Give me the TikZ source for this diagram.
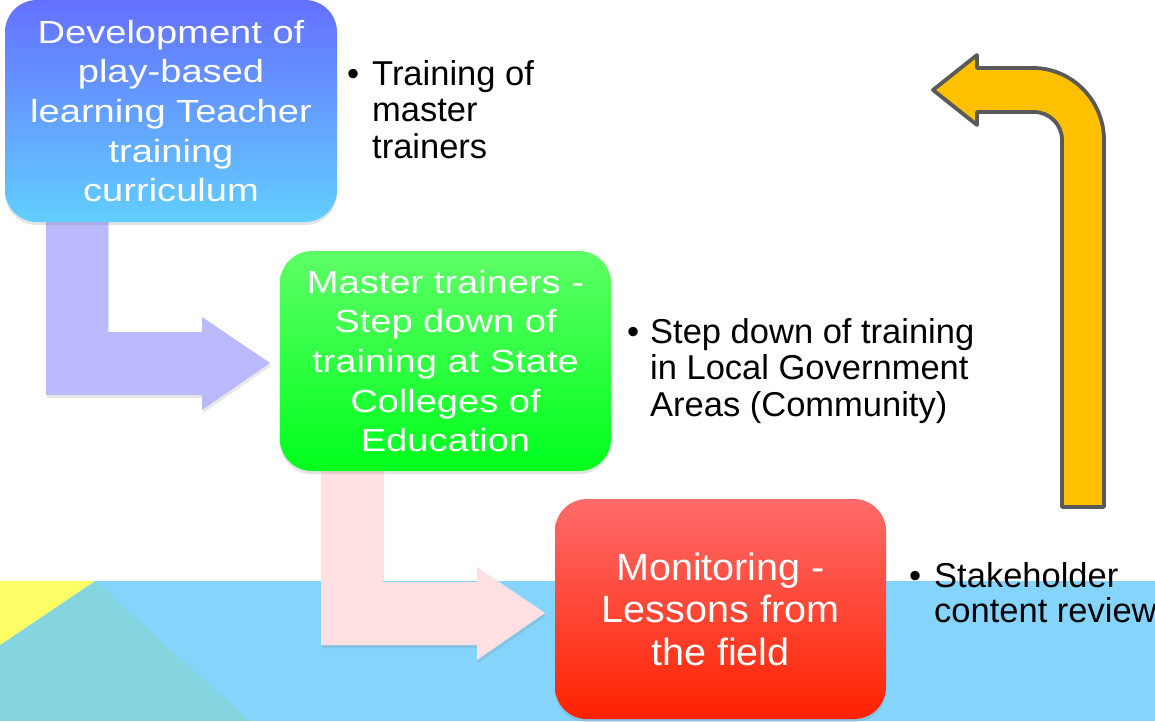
\documentclass[tikz,border=0pt]{standalone}
\usepackage{fontspec}
\setmainfont{Liberation Sans}
\newfontfamily\boxfont{Liberation Sans}[FakeStretch=1.19]
\newfontfamily\redfont{Liberation Sans}[FakeStretch=1.04]
\usetikzlibrary{shadows}
\definecolor{bgblue}{RGB}{132,212,252}
\definecolor{tealbg}{RGB}{133,213,224}
\definecolor{yellowbg}{RGB}{255,255,102}
\definecolor{lilac}{RGB}{185,185,252}
\definecolor{pinkarrow}{RGB}{255,225,228}
\definecolor{arrowyellow}{RGB}{255,192,0}
\definecolor{arrowgray}{RGB}{89,89,89}
\definecolor{bluetop}{RGB}{101,112,255}
\definecolor{bluebot}{RGB}{98,206,255}
\definecolor{greentop}{RGB}{94,255,102}
\definecolor{greenbot}{RGB}{0,255,28}
\definecolor{redtop}{RGB}{255,107,107}
\definecolor{redbot}{RGB}{255,34,0}
\begin{document}
\begin{tikzpicture}[x=1pt,y=-1pt,
  stepbox/.style={rounded corners=32pt, draw=none, align=center, text=white,
    drop shadow={opacity=0.22, shadow xshift=0pt, shadow yshift=-3pt}},
  boxtext/.style={font=\boxfont\fontsize{32}{39.7}\selectfont},
  redtext/.style={font=\redfont\fontsize{38}{42.5}\selectfont},
  arrowshadow/.style={drop shadow={opacity=0.18, shadow xshift=1pt, shadow yshift=-3pt}},
  bulletdot/.style={anchor=base west, inner sep=0pt, font=\fontsize{34.5}{36.8}\selectfont},
  bullettext/.style={anchor=base west, inner sep=0pt, align=left, font=\fontsize{34.5}{36.8}\selectfont}]
\useasboundingbox (0,0) rectangle (1155,721);
% background
\fill[bgblue] (0,581) rectangle (1155,721);
\fill[tealbg] (95,581) -- (250,721) -- (0,721) -- (0,645) -- cycle;
\fill[yellowbg] (0,581) -- (95,581) -- (0,645) -- cycle;
% bent block arrows
\fill[lilac, arrowshadow] (46,215) -- (108,215) -- (108,332) -- (202,332) -- (202,317)
  -- (270,363) -- (202,410) -- (202,395) -- (46,395) -- cycle;
\fill[pinkarrow, arrowshadow] (321,465) -- (383,465) -- (383,582) -- (477,582) -- (477,567)
  -- (545,613) -- (477,660) -- (477,645) -- (321,645) -- cycle;
% boxes
\node[stepbox, boxtext, minimum width=332pt, minimum height=222pt,
  top color=bluetop, bottom color=bluebot] (dev) at (171,111)
  {Development of\\play-based\\learning Teacher\\training\\curriculum};
\node[stepbox, boxtext, minimum width=331pt, minimum height=220pt,
  top color=greentop, bottom color=greenbot] (master) at (445.5,361)
  {Master trainers -\\Step down of\\training at State\\Colleges of\\Education};
\node[stepbox, redtext, minimum width=331pt, minimum height=220pt,
  top color=redtop, bottom color=redbot] (mon) at (720.5,609)
  {Monitoring -\\Lessons from\\the field};
% return arrow
\filldraw[fill=arrowyellow, draw=arrowgray, line width=3.8pt, line join=round]
  (1062,507) -- (1062,140) .. controls (1062,124.5) and (1049.5,112) .. (1034,112)
  -- (977,112) -- (977,125) -- (933,90) -- (977,55) -- (977,68) -- (1033,68)
  .. controls (1072.2,68) and (1104,100.8) .. (1104,140) -- (1104,507) -- cycle;
% bullets (text nodes anchored at the baseline of their last line)
\node[bulletdot] (d1) at (347,85) {•};
\node[bullettext] (t1) at (372,158.6) {Training of\\master\\trainers};
\node[bulletdot] (d2) at (627,343) {•};
\node[bullettext] (t2) at (650,416.6) {Step down of training\\in Local Government\\Areas (Community)};
\node[bulletdot] (d3) at (909,587) {•};
\node[bullettext, font=\fontsize{34.5}{35.5}\selectfont] (t3) at (934,622.5) {Stakeholder\\content review};
\end{tikzpicture}
\end{document}
